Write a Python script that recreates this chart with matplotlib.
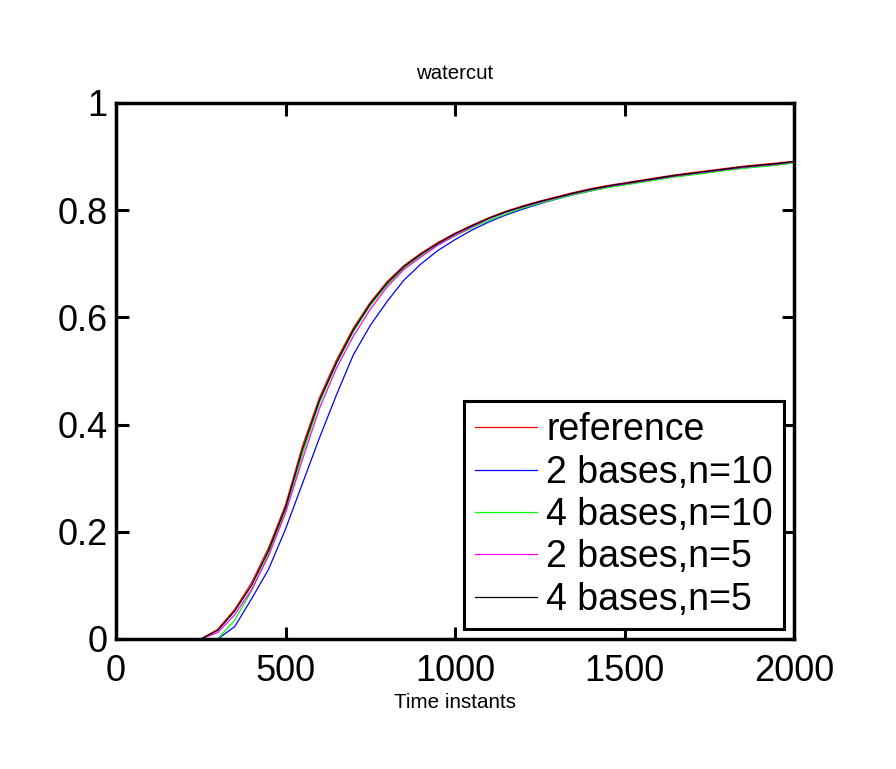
import matplotlib
matplotlib.use("Agg")
import matplotlib.pyplot as plt
import numpy as np

t = list(range(0, 2001, 50))

tail_ref = [0.757, 0.772, 0.786, 0.798, 0.808, 0.817, 0.825, 0.833, 0.840, 0.846,
            0.851, 0.856, 0.861, 0.866, 0.870, 0.874, 0.878, 0.882, 0.885, 0.888, 0.891]

reference = [0, 0, 0, 0, 0, 0, 0.018, 0.055, 0.105, 0.17, 0.25, 0.36, 0.45, 0.52, 0.58,
             0.628, 0.667, 0.697, 0.72, 0.74] + tail_ref
bases2_n10 = [0, 0, 0, 0, 0, 0, 0, 0.023, 0.075, 0.13, 0.205, 0.29, 0.375, 0.455, 0.53,
              0.585, 0.63, 0.67, 0.70, 0.725, 0.745, 0.763, 0.778, 0.791, 0.802, 0.812,
              0.821, 0.829, 0.836, 0.843, 0.848, 0.853, 0.858, 0.863, 0.867, 0.871,
              0.875, 0.879, 0.882, 0.885, 0.889]
bases4_n10 = [0, 0, 0, 0, 0, 0, 0, 0.035, 0.09, 0.16, 0.24, 0.345, 0.44, 0.513, 0.573,
              0.622, 0.661, 0.692, 0.715, 0.735, 0.752, 0.767, 0.781, 0.793, 0.804, 0.813,
              0.821, 0.829, 0.836, 0.842, 0.847, 0.852, 0.857, 0.862, 0.866, 0.870,
              0.874, 0.878, 0.881, 0.884, 0.888]
bases2_n5 = [0, 0, 0, 0, 0, 0, 0.012, 0.045, 0.092, 0.155, 0.235, 0.335, 0.43, 0.505, 0.565,
             0.615, 0.657, 0.69, 0.713, 0.735, 0.753, 0.769, 0.784, 0.796, 0.806, 0.815,
             0.823, 0.831, 0.838, 0.844, 0.849, 0.854, 0.859, 0.864, 0.868, 0.872,
             0.876, 0.880, 0.883, 0.886, 0.890]
bases4_n5 = [0, 0, 0, 0, 0, 0, 0.016, 0.052, 0.10, 0.165, 0.245, 0.353, 0.445, 0.515, 0.576,
             0.625, 0.664, 0.695, 0.718, 0.738, 0.756, 0.771, 0.785, 0.797, 0.807, 0.816,
             0.824, 0.832, 0.839, 0.845, 0.850, 0.855, 0.860, 0.865, 0.869, 0.873,
             0.877, 0.881, 0.884, 0.887, 0.891]

series = [
    ("reference", reference, "#ff0000"),
    ("2 bases,n=10", bases2_n10, "#0000ff"),
    ("4 bases,n=10", bases4_n10, "#00ff00"),
    ("2 bases,n=5", bases2_n5, "#ff00ff"),
    ("4 bases,n=5", bases4_n5, "#000000"),
]

plt.rcParams['font.family'] = ['Liberation Sans', 'DejaVu Sans']

fig = plt.figure(figsize=(8.96, 7.69), dpi=100)
ax = fig.add_axes([116/896, 1-639/769, (794-116)/896, (639-103)/769])

for label, vals, col in series:
    ax.plot(t, vals, color=col, lw=0.9, label=label)

ax.set_xlim(0, 2000)
ax.set_ylim(0, 1)
ax.set_xticks([0, 500, 1000, 1500, 2000])
ax.set_yticks([0, 0.2, 0.4, 0.6, 0.8, 1])
ax.set_yticklabels(["0", "0.2", "0.4", "0.6", "0.8", "1"])
ax.tick_params(direction='in', length=9, width=2.2, labelsize=26,
               top=True, right=True, pad=6)
ax.tick_params(axis='x', pad=11)
for s in ax.spines.values():
    s.set_linewidth(2.5)

ax.set_title("watercut", fontsize=14.7, pad=17)
ax.set_xlabel("Time instants", fontsize=14.9, labelpad=3)

leg = ax.legend(loc='lower right', bbox_to_anchor=(784/896, 1-629/769),
                bbox_transform=fig.transFigure, borderaxespad=0,
                fontsize=27, frameon=True, fancybox=False, framealpha=1,
                edgecolor='black', handlelength=1.65, handletextpad=0.25,
                labelspacing=0.17, borderpad=0.3)
leg.get_frame().set_linewidth(2.2)

fig.savefig("out.png", dpi=100)
